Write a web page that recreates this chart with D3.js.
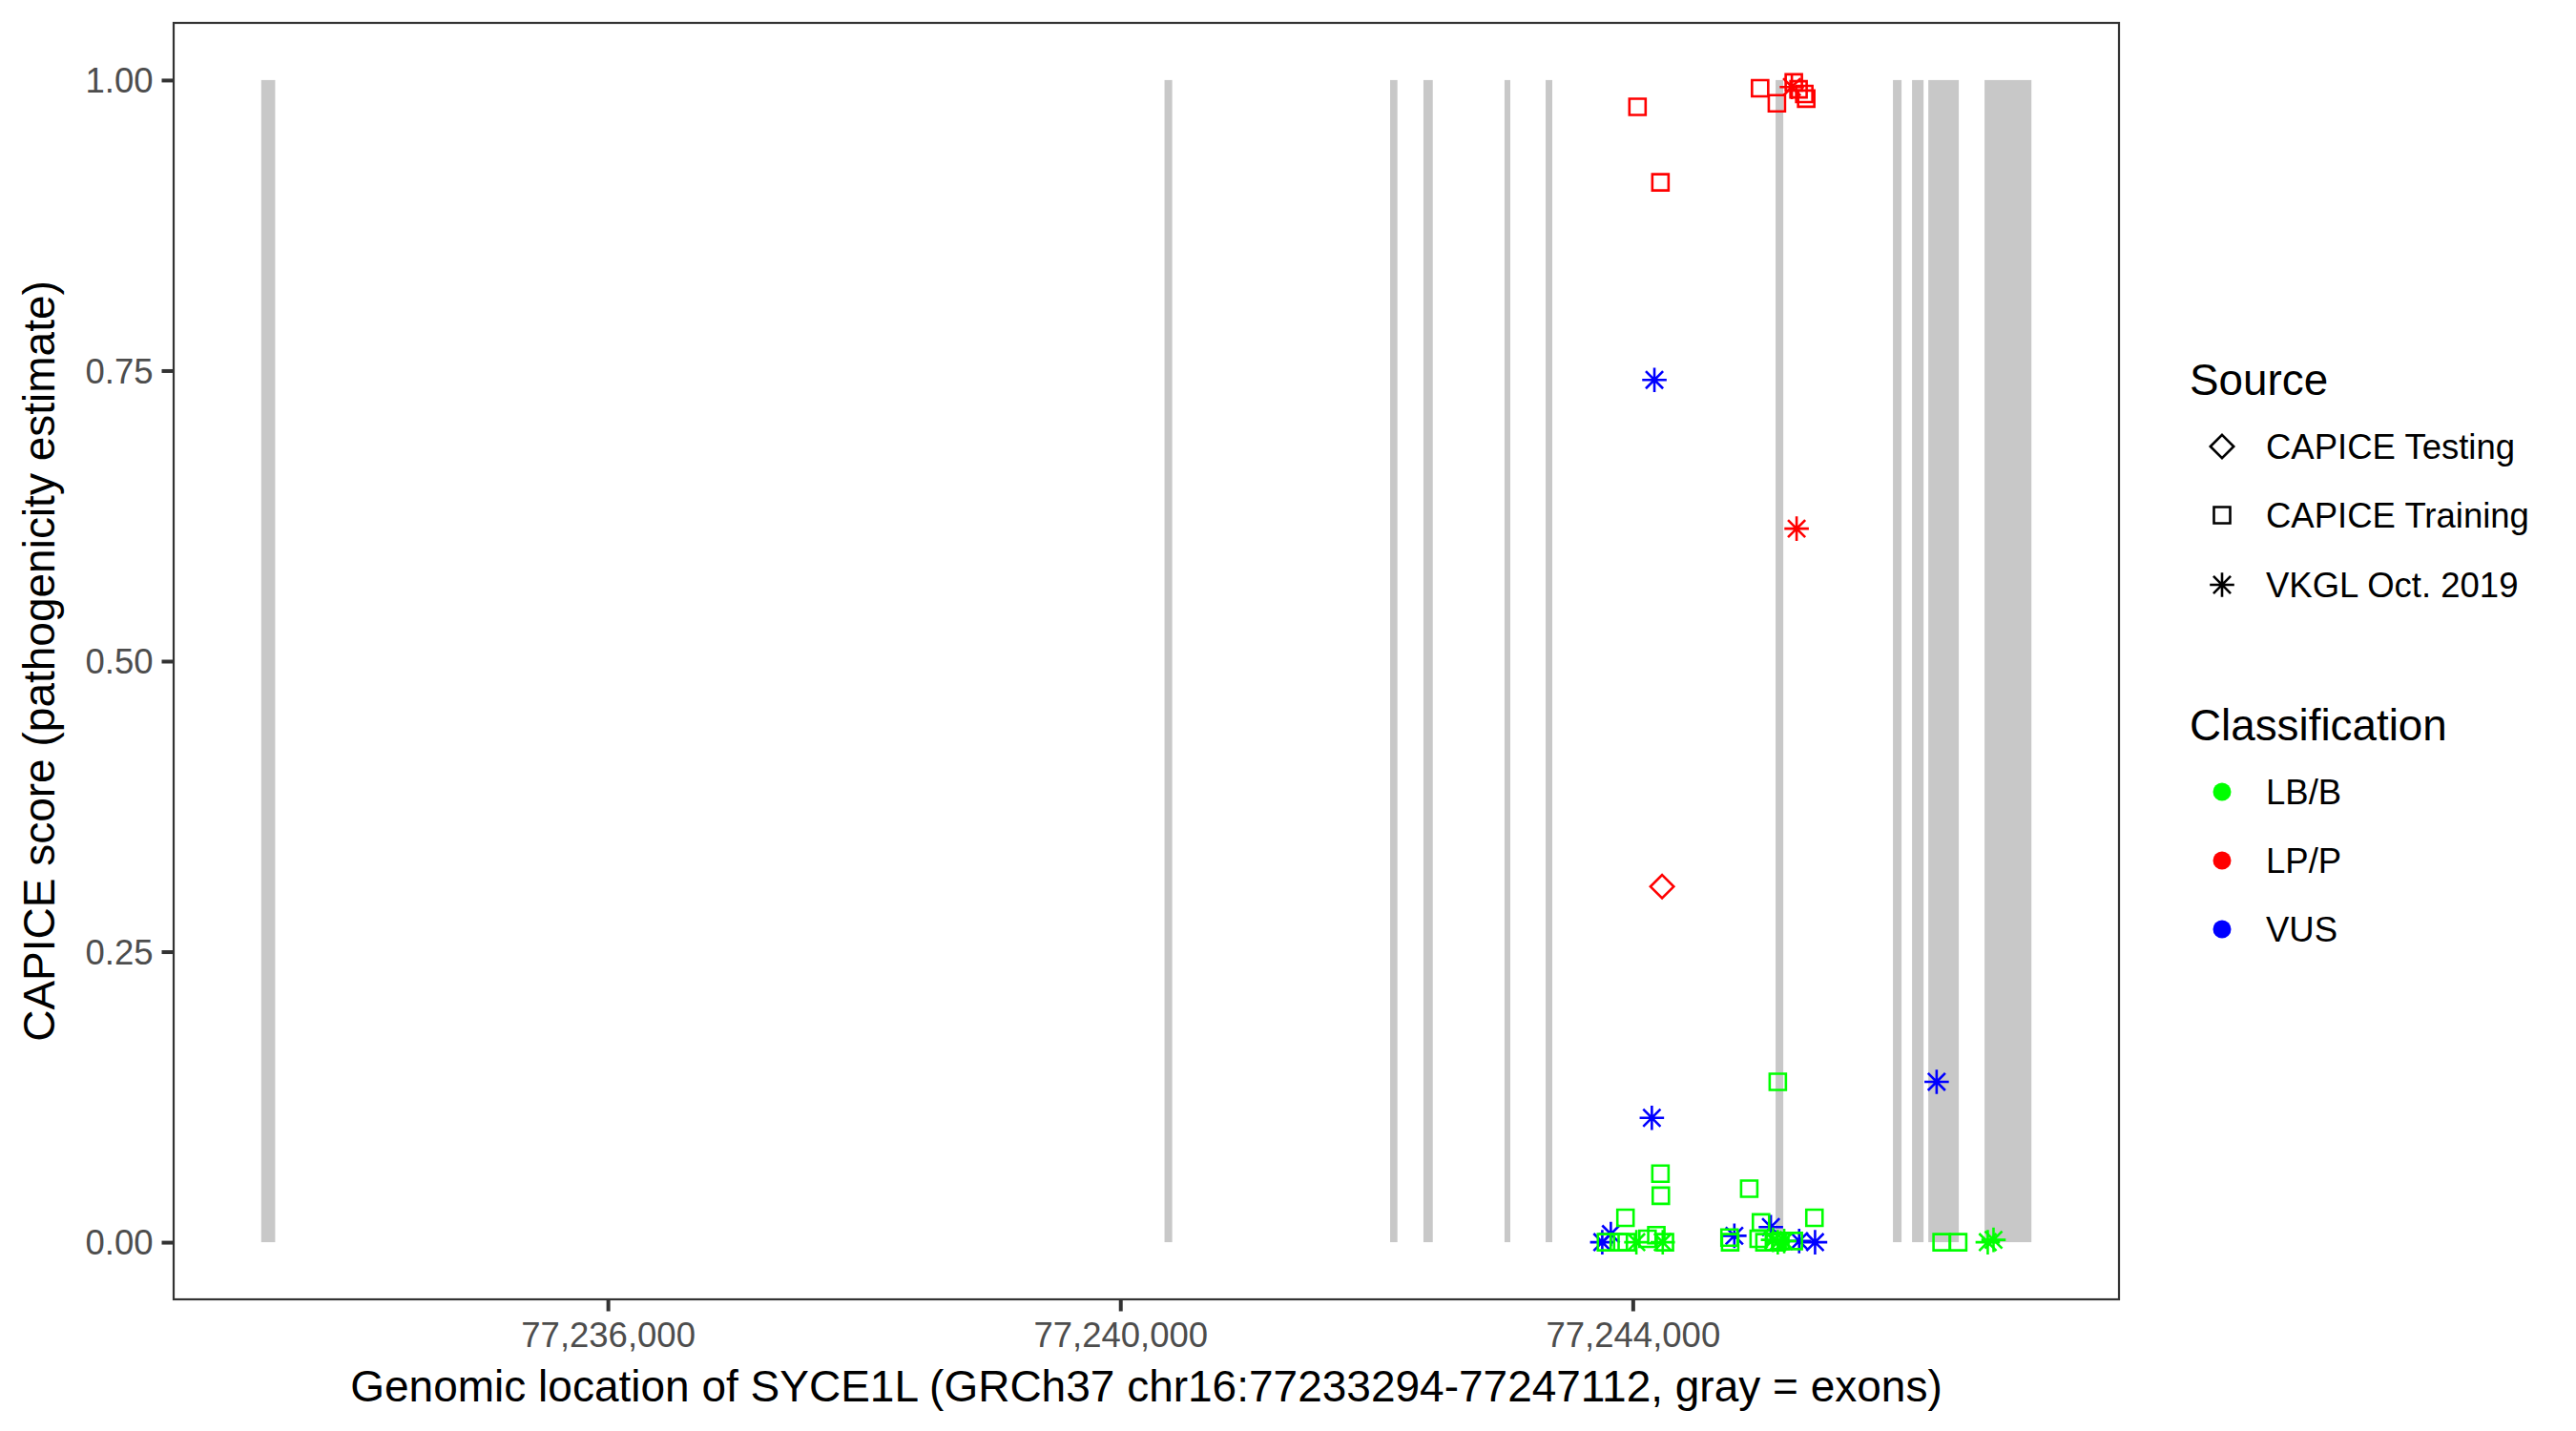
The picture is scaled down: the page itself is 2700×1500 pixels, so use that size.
<!DOCTYPE html>
<html>
<head>
<meta charset="utf-8">
<script src="https://cdn.jsdelivr.net/npm/d3@7"></script>
<style>
  html, body { margin: 0; padding: 0; background: #fff; }
  svg { display: block; font-family: "Liberation Sans", Arial, Helvetica, sans-serif; }
</style>
</head>
<body>
<script>
// ---------------- DATA ----------------
// Exons of SYCE1L (GRCh37 chr16), start / end
const exonStart = [77233294, 77240345, 77242106, 77242366, 77242999, 77243320, 77245115, 77246031, 77246180, 77246307, 77246746];
const exonEnd   = [77233403, 77240405, 77242163, 77242439, 77243044, 77243372, 77245175, 77246098, 77246270, 77246545, 77247112];

// Variants: genomic position, CAPICE score, source, classification
const variantPos = [
  // LP/P CAPICE Training
  77244037, 77244216, 77244994, 77245125, 77245257, 77245294, 77245339, 77245354,
  // LP/P VKGL
  77245242, 77245279,
  // LP/P CAPICE Testing
  77244229,
  // VUS VKGL
  77244169, 77244149, 77245078, 77243829, 77243762, 77244793, 77245299, 77245423, 77246372,
  // LB/B CAPICE Training
  77244216, 77244219, 77243943, 77245132, 77244909, 77245418, 77245001,
  77243791, 77243891, 77243953, 77244115, 77244184, 77244251, 77244760, 77244755,
  77244983, 77245028, 77245102, 77245152, 77245257, 77246411, 77246540,
  // LB/B VKGL
  77244028, 77244234, 77245095, 77245132, 77245182, 77246771, 77246816
];
const variantScore = [
  0.977, 0.912, 0.993, 0.980, 0.998, 0.992, 0.988, 0.984,
  0.994, 0.614,
  0.306,
  0.742, 0.107, 0.013, 0.007, 0.000, 0.0055, 0.001, 0.000, 0.138,
  0.059, 0.040, 0.021, 0.138, 0.046, 0.021, 0.017,
  0.000, 0.000, 0.000, 0.003, 0.006, 0.000, 0.000, 0.004,
  0.003, 0.000, 0.000, 0.001, 0.001, 0.000, 0.000,
  0.000, 0.000, 0.002, 0.000, 0.001, 0.000, 0.002
];
const variantSource = [
  "CAPICE Training","CAPICE Training","CAPICE Training","CAPICE Training","CAPICE Training","CAPICE Training","CAPICE Training","CAPICE Training",
  "VKGL Oct. 2019","VKGL Oct. 2019",
  "CAPICE Testing",
  "VKGL Oct. 2019","VKGL Oct. 2019","VKGL Oct. 2019","VKGL Oct. 2019","VKGL Oct. 2019","VKGL Oct. 2019","VKGL Oct. 2019","VKGL Oct. 2019","VKGL Oct. 2019",
  "CAPICE Training","CAPICE Training","CAPICE Training","CAPICE Training","CAPICE Training","CAPICE Training","CAPICE Training",
  "CAPICE Training","CAPICE Training","CAPICE Training","CAPICE Training","CAPICE Training","CAPICE Training","CAPICE Training","CAPICE Training",
  "CAPICE Training","CAPICE Training","CAPICE Training","CAPICE Training","CAPICE Training","CAPICE Training","CAPICE Training",
  "VKGL Oct. 2019","VKGL Oct. 2019","VKGL Oct. 2019","VKGL Oct. 2019","VKGL Oct. 2019","VKGL Oct. 2019","VKGL Oct. 2019"
];
const variantClass = [
  "LP/P","LP/P","LP/P","LP/P","LP/P","LP/P","LP/P","LP/P",
  "LP/P","LP/P",
  "LP/P",
  "VUS","VUS","VUS","VUS","VUS","VUS","VUS","VUS","VUS",
  "LB/B","LB/B","LB/B","LB/B","LB/B","LB/B","LB/B",
  "LB/B","LB/B","LB/B","LB/B","LB/B","LB/B","LB/B","LB/B",
  "LB/B","LB/B","LB/B","LB/B","LB/B","LB/B","LB/B",
  "LB/B","LB/B","LB/B","LB/B","LB/B","LB/B","LB/B"
];

const sourceLevels = ["CAPICE Testing", "CAPICE Training", "VKGL Oct. 2019"];
const classLevels = ["LB/B", "LP/P", "VUS"];
const classColors = ["#00FF00", "#FF0000", "#0000FF"];
const xTickValues = [77236000, 77240000, 77244000];
const yTickValues = [0, 0.25, 0.5, 0.75, 1];
const geneLabel = "Genomic location of SYCE1L (GRCh37 chr16:77233294-77247112, gray = exons)";
const yLabel = "CAPICE score (pathogenicity estimate)";

// ---------------- LAYOUT ----------------
const W = 2700, H = 1500;
const panel = { left: 181, right: 2222, top: 23, bottom: 1363 };
const ink = "#333333";

const svg = d3.select("body").append("svg").attr("width", W).attr("height", H);

const geneMin = d3.min(exonStart), geneMax = d3.max(exonEnd);
const xPad = (geneMax - geneMin) * 0.05;
const x = d3.scaleLinear().domain([geneMin - xPad, geneMax + xPad]).range([panel.left, panel.right]);
const y = d3.scaleLinear().domain([-0.05, 1.05]).range([panel.bottom, panel.top]);
const color = d3.scaleOrdinal().domain(classLevels).range(classColors);

// clip for panel
svg.append("clipPath").attr("id", "pclip").append("rect")
  .attr("x", panel.left).attr("y", panel.top)
  .attr("width", panel.right - panel.left).attr("height", panel.bottom - panel.top);

const gPanel = svg.append("g").attr("clip-path", "url(#pclip)");

// exons
const exons = exonStart.map((s, i) => ({ s, e: exonEnd[i] }));
gPanel.selectAll("rect.exon").data(exons).join("rect")
  .attr("class", "exon")
  .attr("x", d => x(d.s)).attr("width", d => x(d.e) - x(d.s))
  .attr("y", y(1)).attr("height", y(0) - y(1))
  .attr("fill", "#C8C8C8");

// symbols
const SQ = 8.5, ST = 12.8, DM = 12.2;
function shapePath(src) {
  if (src === "CAPICE Training") {
    return `M${-SQ},${-SQ}H${SQ}V${SQ}H${-SQ}Z`;
  } else if (src === "CAPICE Testing") {
    return `M0,${-DM}L${DM},0L0,${DM}L${-DM},0Z`;
  } else {
    const d = ST * Math.SQRT1_2;
    return `M0,${-ST}V${ST}M${-ST},0H${ST}M${-d},${-d}L${d},${d}M${-d},${d}L${d},${-d}`;
  }
}

const variants = variantPos.map((p, i) => ({ p, s: variantScore[i], src: variantSource[i], cls: variantClass[i] }));
gPanel.selectAll("path.pt").data(variants).join("path")
  .attr("class", "pt")
  .attr("transform", d => `translate(${x(d.p)},${y(d.s)})`)
  .attr("d", d => shapePath(d.src))
  .attr("fill", "none")
  .attr("stroke", d => color(d.cls))
  .attr("stroke-width", 2.6);

// panel border (outer half clipped, like ggplot)
svg.append("rect")
  .attr("x", panel.left + 1).attr("y", panel.top + 1)
  .attr("width", panel.right - panel.left - 2).attr("height", panel.bottom - panel.top - 2)
  .attr("fill", "none").attr("stroke", ink).attr("stroke-width", 2.2);

// axes
const xAxis = d3.axisBottom(x).tickValues(xTickValues).tickFormat(d3.format(",")).tickSize(11.5).tickPadding(12);
const gx = svg.append("g").attr("transform", `translate(0,${panel.bottom})`).call(xAxis);
const yAxis = d3.axisLeft(y).tickValues(yTickValues).tickFormat(d3.format(".2f")).tickSize(11.5).tickPadding(9);
const gy = svg.append("g").attr("transform", `translate(${panel.left},0)`).call(yAxis);

[gx, gy].forEach(g => {
  g.select(".domain").remove();
  g.selectAll(".tick line").attr("stroke", ink).attr("stroke-width", 4);
  g.selectAll(".tick text").attr("fill", "#4D4D4D").style("font-size", "36.5px")
    .style("font-family", '"Liberation Sans", Arial, Helvetica, sans-serif');
});
gx.selectAll(".tick text").attr("dy", null)
  .attr("dominant-baseline", "auto")
  .attr("y", 49);
gy.selectAll(".tick text").attr("dy", "0.35em");

// axis titles
svg.append("text")
  .attr("x", (panel.left + panel.right) / 2).attr("y", 1469)
  .attr("text-anchor", "middle").attr("fill", "#000").style("font-size", "46px")
  .text(geneLabel);
svg.append("text")
  .attr("transform", `translate(57,${(panel.top + panel.bottom) / 2}) rotate(-90)`)
  .attr("text-anchor", "middle").attr("fill", "#000").style("font-size", "46px")
  .text(yLabel);

// legends
const legX = 2295, keyX = 2329, labX = 2375;
const gl = svg.append("g");
gl.append("text").attr("x", legX).attr("y", 414).style("font-size", "45.8px").attr("fill", "#000").text("Source");
const srcY = [468, 540, 613];
sourceLevels.forEach((s, i) => {
  gl.append("path").attr("transform", `translate(${keyX},${srcY[i]})`)
    .attr("d", shapePath(s)).attr("fill", "none").attr("stroke", "#000").attr("stroke-width", 2.6);
  gl.append("text").attr("x", labX).attr("y", srcY[i]).attr("dy", "0.35em")
    .style("font-size", "36.5px").attr("fill", "#000").text(s);
});
gl.append("text").attr("x", legX).attr("y", 776).style("font-size", "45.8px").attr("fill", "#000").text("Classification");
const clsY = [830, 902, 974];
classLevels.forEach((c, i) => {
  gl.append("circle").attr("cx", keyX).attr("cy", clsY[i]).attr("r", 9.5).attr("fill", color(c));
  gl.append("text").attr("x", labX).attr("y", clsY[i]).attr("dy", "0.35em")
    .style("font-size", "36.5px").attr("fill", "#000").text(c);
});
</script>
</body>
</html>
